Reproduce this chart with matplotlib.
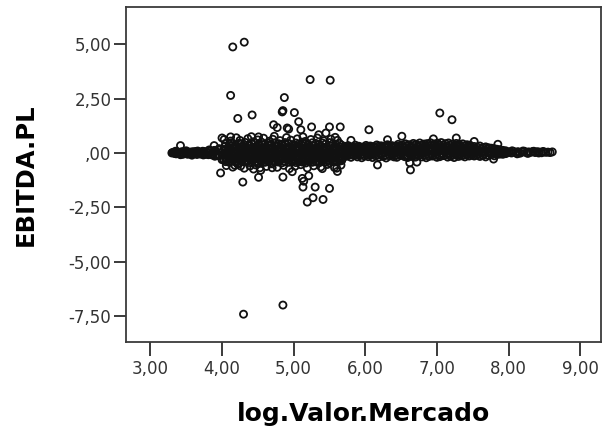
import matplotlib
matplotlib.use("Agg")
import matplotlib.pyplot as plt

# ---- outliers / scattered points ----
out_x = [4.15, 4.31, 4.12, 5.23, 5.51, 4.87, 4.22, 4.42, 4.84, 4.85, 5.01, 5.07, 5.10,
         4.72, 4.77, 4.91, 4.93, 4.73, 5.13, 5.25, 5.50, 5.65, 5.45, 5.35, 6.05, 7.04,
         7.21, 3.42, 3.33, 8.61, 3.98, 4.29, 4.51, 4.85, 4.98, 5.12, 5.14, 5.21, 5.13,
         5.30, 5.50, 5.27, 5.19, 5.41, 5.61, 6.63, 6.17, 7.79, 4.00, 4.18, 4.26, 4.44,
         4.54, 4.30, 4.85, 4.00, 4.12, 4.41, 4.51, 3.89, 5.80, 6.31, 6.51, 6.95, 7.27,
         7.52, 7.85, 8.00, 5.60, 5.40, 4.70, 5.58, 6.62, 6.72]
out_y = [4.88, 5.10, 2.65, 3.38, 3.35, 2.55, 1.59, 1.75, 1.89, 1.95, 1.86, 1.44, 1.07,
         1.30, 1.17, 1.15, 1.10, 0.77, 0.74, 1.20, 1.20, 1.20, 0.92, 0.84, 1.07, 1.84,
         1.53, 0.34, 0.00, 0.05, -0.92, -1.34, -1.12, -1.11, -0.86, -1.17, -1.30, -1.05,
         -1.57, -1.57, -1.63, -2.06, -2.26, -2.14, -0.85, -0.78, -0.55, -0.28, -0.31,
         -0.57, -0.60, -0.74, -0.80, -7.42, -7.00, 0.69, 0.74, 0.75, 0.74, 0.34, 0.58,
         0.61, 0.77, 0.65, 0.69, 0.53, 0.40, 0.03, -0.70, -0.72, -0.68, 0.72, -0.45, -0.42]

# ---- dense band, section 3.3 - 4.0 ----
a_x = [3.30, 3.33, 3.36, 3.38, 3.41, 3.44, 3.46, 3.49, 3.52, 3.55, 3.57, 3.60, 3.63,
       3.65, 3.68, 3.71, 3.73, 3.76, 3.79, 3.81, 3.84, 3.87, 3.89, 3.92, 3.95, 3.97,
       3.35, 3.42, 3.50, 3.58, 3.66, 3.74, 3.82, 3.90, 3.96]
a_y = [0.00, 0.03, -0.04, 0.05, -0.02, 0.06, -0.05, 0.02, -0.06, 0.04, 0.00, -0.03, 0.07,
       -0.07, 0.03, -0.01, 0.08, -0.04, 0.05, -0.08, 0.10, -0.06, 0.12, -0.10, 0.14, -0.12,
       0.08, -0.08, 0.10, -0.10, 0.09, -0.09, 0.14, -0.15, 0.20]
a2_x = [3.31, 3.34, 3.37, 3.40, 3.43, 3.45, 3.48, 3.51, 3.53, 3.56, 3.59, 3.62, 3.64,
        3.67, 3.70, 3.72, 3.75, 3.78, 3.80, 3.83, 3.86, 3.88, 3.91, 3.94, 3.99]
a2_y = [0.02, -0.02, 0.04, -0.03, 0.01, -0.05, 0.05, -0.01, 0.03, -0.04, 0.06, 0.01, -0.02,
        0.05, -0.05, 0.02, 0.07, -0.06, 0.00, 0.09, -0.09, 0.04, 0.11, -0.12, 0.02]

# ---- section 4.0 - 5.7 ----
bx_a = [4.02, 4.07, 4.11, 4.16, 4.21, 4.26, 4.30, 4.35, 4.40, 4.45, 4.49, 4.54, 4.59,
        4.63, 4.68, 4.73, 4.78, 4.82, 4.87, 4.92, 4.97, 5.01, 5.06, 5.11, 5.15, 5.20,
        5.25, 5.30, 5.34, 5.39, 5.44, 5.49, 5.53, 5.58, 5.63, 5.68]
bx_b = [4.04, 4.09, 4.14, 4.18, 4.23, 4.28, 4.33, 4.37, 4.42, 4.47, 4.52, 4.56, 4.61,
        4.66, 4.70, 4.75, 4.80, 4.85, 4.89, 4.94, 4.99, 5.04, 5.08, 5.13, 5.18, 5.22,
        5.27, 5.32, 5.37, 5.41, 5.46, 5.51, 5.56, 5.60, 5.65, 5.70]
bx_c = [4.05, 4.10, 4.13, 4.19, 4.24, 4.27, 4.32, 4.38, 4.41, 4.46, 4.51, 4.55, 4.60,
        4.65, 4.69, 4.74, 4.79, 4.84, 4.88, 4.93, 4.98, 5.03, 5.07, 5.12, 5.17, 5.21,
        5.26, 5.31, 5.36, 5.40, 5.45, 5.50, 5.55, 5.59, 5.64, 5.67]
bx_s1 = [4.03, 4.12, 4.20, 4.25, 4.36, 4.44, 4.50, 4.58, 4.66, 4.71, 4.81, 4.90, 4.96,
         5.05, 5.16, 5.24, 5.33, 5.42, 5.52, 5.61]
bx_s2 = [4.06, 4.15, 4.22, 4.31, 4.39, 4.47, 4.53, 4.62, 4.70, 4.77, 4.86, 4.94, 5.02,
         5.10, 5.19, 5.28, 5.38, 5.47, 5.57, 5.66]
b1_y = [0.62, 0.55, 0.70, 0.58, 0.66, 0.52, 0.60, 0.68, 0.54, 0.63, 0.57, 0.71, 0.59,
        0.65, 0.53, 0.62, 0.69, 0.56, 0.64, 0.58]
b2_y = [0.30, 0.25, 0.33, 0.27, 0.22, 0.31, 0.26, 0.34, 0.24, 0.29, 0.32, 0.23, 0.28,
        0.35, 0.26, 0.30, 0.24, 0.33, 0.27, 0.21, 0.31, 0.28, 0.25, 0.34, 0.29, 0.23,
        0.32, 0.26, 0.30, 0.24, 0.28, 0.33, 0.25, 0.29, 0.27, 0.22]
b3_y = [0.10, 0.05, 0.12, 0.03, 0.08, 0.14, 0.06, 0.11, 0.02, 0.09, 0.13, 0.04, 0.07,
        0.12, 0.01, 0.10, 0.06, 0.13, 0.08, 0.03, 0.11, 0.07, 0.14, 0.05, 0.09, 0.02,
        0.12, 0.06, 0.10, 0.04, 0.08, 0.13, 0.05, 0.11, 0.07, 0.09]
b4_y = [-0.10, -0.15, -0.08, -0.13, -0.18, -0.11, -0.14, -0.07, -0.16, -0.12, -0.09, -0.17,
        -0.13, -0.06, -0.14, -0.10, -0.16, -0.08, -0.12, -0.19, -0.09, -0.13, -0.15, -0.07,
        -0.11, -0.17, -0.10, -0.14, -0.08, -0.16, -0.12, -0.09, -0.15, -0.11, -0.13, -0.10]
b5_y = [-0.30, -0.35, -0.28, -0.33, -0.38, -0.31, -0.27, -0.36, -0.32, -0.29, -0.37, -0.33,
        -0.26, -0.34, -0.30, -0.36, -0.28, -0.32, -0.39, -0.29, -0.33, -0.35, -0.27, -0.31,
        -0.37, -0.30, -0.34, -0.28, -0.36, -0.32, -0.29, -0.35, -0.31, -0.33, -0.30, -0.26]
b6_y = [-0.58, -0.65, -0.52, -0.70, -0.60, -0.55, -0.68, -0.62, -0.50, -0.66, -0.57, -0.72,
        -0.61, -0.54, -0.69, -0.59, -0.64, -0.53, -0.67, -0.56]
b7_y = [0.44, 0.40, 0.47, 0.38, 0.45, 0.41, 0.49, 0.37, 0.43, 0.46, 0.39, 0.50, 0.42,
        0.45, 0.38, 0.47, 0.43, 0.40, 0.48, 0.44, 0.37, 0.46, 0.41, 0.49, 0.43, 0.39,
        0.47, 0.44, 0.40, 0.46, 0.42, 0.48, 0.43, 0.39, 0.44, 0.36]
b8_y = [0.18, 0.20, 0.16, 0.19, 0.21, 0.17, 0.15, 0.20, 0.18, 0.22, 0.16, 0.19, 0.17,
        0.21, 0.18, 0.15, 0.20, 0.17, 0.19, 0.22, 0.16, 0.18, 0.21, 0.17, 0.19, 0.15,
        0.20, 0.18, 0.16, 0.21, 0.19, 0.17, 0.20, 0.18, 0.16, 0.19]
b9_y = [-0.02, 0.00, -0.04, -0.01, -0.03, 0.01, -0.02, -0.05, 0.00, -0.03, -0.01, -0.04,
        0.01, -0.02, -0.03, 0.00, -0.04, -0.01, -0.02, -0.05, 0.01, -0.03, -0.01, -0.02,
        -0.04, 0.00, -0.03, -0.01, -0.02, -0.04, 0.00, -0.02, -0.03, -0.01, -0.02, 0.00]
b10_y = [-0.22, -0.20, -0.24, -0.21, -0.23, -0.19, -0.22, -0.25, -0.20, -0.23, -0.21, -0.24,
         -0.19, -0.22, -0.23, -0.20, -0.24, -0.21, -0.22, -0.25, -0.19, -0.23, -0.21, -0.22,
         -0.24, -0.20, -0.23, -0.21, -0.22, -0.24, -0.20, -0.22, -0.23, -0.21, -0.22, -0.20]
b11_y = [-0.40, -0.43, -0.38, -0.42, -0.45, -0.39, -0.41, -0.44, -0.40, -0.42, -0.46, -0.39,
         -0.43, -0.41, -0.44, -0.40, -0.42, -0.45, -0.39, -0.43, -0.41, -0.44, -0.40, -0.42,
         -0.46, -0.39, -0.43, -0.41, -0.44, -0.40, -0.42, -0.45, -0.39, -0.41, -0.38, -0.35]

# ---- section 5.7 - 7.5 ----
cx_a = [5.72, 5.76, 5.82, 5.86, 5.91, 5.97, 6.01, 6.07, 6.11, 6.16, 6.22, 6.26, 6.31,
        6.37, 6.41, 6.46, 6.52, 6.56, 6.61, 6.67, 6.71, 6.76, 6.82, 6.86, 6.91, 6.97,
        7.01, 7.06, 7.12, 7.16, 7.21, 7.27, 7.31, 7.36, 7.42, 7.46]
cx_b = [5.74, 5.80, 5.84, 5.89, 5.95, 5.99, 6.04, 6.10, 6.14, 6.19, 6.25, 6.29, 6.34,
        6.40, 6.44, 6.49, 6.55, 6.59, 6.64, 6.70, 6.74, 6.79, 6.85, 6.89, 6.94, 7.00,
        7.04, 7.09, 7.15, 7.19, 7.24, 7.30, 7.34, 7.39, 7.45, 7.49]
cx_c = [5.73, 5.78, 5.83, 5.88, 5.93, 5.98, 6.03, 6.08, 6.13, 6.18, 6.23, 6.28, 6.33,
        6.38, 6.43, 6.48, 6.53, 6.58, 6.63, 6.68, 6.73, 6.78, 6.83, 6.88, 6.93, 6.98,
        7.03, 7.08, 7.13, 7.18, 7.23, 7.28, 7.33, 7.38, 7.43, 7.48]
c1_y = [0.30, 0.34, 0.28, 0.36, 0.31, 0.27, 0.35, 0.32, 0.29, 0.37, 0.33, 0.30, 0.38,
        0.34, 0.31, 0.40, 0.36, 0.42, 0.38, 0.44, 0.40, 0.46, 0.41, 0.43, 0.47, 0.42,
        0.45, 0.48, 0.43, 0.46, 0.41, 0.44, 0.40, 0.42, 0.38, 0.36]
c2_y = [0.18, 0.22, 0.15, 0.20, 0.24, 0.17, 0.21, 0.19, 0.23, 0.16, 0.20, 0.25, 0.18,
        0.22, 0.19, 0.24, 0.21, 0.17, 0.23, 0.20, 0.26, 0.19, 0.22, 0.24, 0.18, 0.21,
        0.25, 0.20, 0.23, 0.19, 0.22, 0.26, 0.21, 0.18, 0.23, 0.20]
c3_y = [0.02, -0.03, 0.05, 0.00, -0.02, 0.04, 0.01, -0.04, 0.03, 0.06, -0.01, 0.02, 0.05,
        -0.03, 0.01, 0.04, 0.00, 0.06, 0.02, -0.02, 0.05, 0.03, 0.00, 0.04, 0.07, 0.01,
        0.03, -0.01, 0.05, 0.02, 0.06, 0.00, 0.04, 0.02, 0.03, 0.01]
c4_y = [-0.15, -0.20, -0.12, -0.18, -0.22, -0.14, -0.17, -0.21, -0.13, -0.19, -0.16, -0.23,
        -0.14, -0.18, -0.20, -0.12, -0.17, -0.21, -0.15, -0.19, -0.13, -0.18, -0.22, -0.16,
        -0.14, -0.20, -0.17, -0.12, -0.19, -0.15, -0.21, -0.16, -0.13, -0.18, -0.14, -0.10]
c5_y = [0.26, 0.28, 0.24, 0.29, 0.27, 0.25, 0.30, 0.26, 0.28, 0.31, 0.27, 0.29, 0.32,
        0.28, 0.30, 0.33, 0.29, 0.34, 0.31, 0.35, 0.32, 0.36, 0.33, 0.34, 0.37, 0.32,
        0.35, 0.36, 0.33, 0.35, 0.31, 0.34, 0.30, 0.32, 0.29, 0.27]
c6_y = [0.10, 0.12, 0.08, 0.11, 0.13, 0.09, 0.11, 0.10, 0.12, 0.08, 0.11, 0.13, 0.09,
        0.12, 0.10, 0.13, 0.11, 0.09, 0.12, 0.10, 0.14, 0.11, 0.12, 0.13, 0.10, 0.11,
        0.14, 0.10, 0.12, 0.11, 0.13, 0.12, 0.11, 0.10, 0.12, 0.10]
c7_y = [-0.07, -0.10, -0.05, -0.09, -0.11, -0.06, -0.08, -0.10, -0.06, -0.09, -0.07, -0.11,
        -0.06, -0.09, -0.10, -0.05, -0.08, -0.10, -0.07, -0.09, -0.06, -0.08, -0.11, -0.07,
        -0.06, -0.10, -0.08, -0.05, -0.09, -0.07, -0.10, -0.08, -0.06, -0.09, -0.07, -0.05]

# ---- section 7.5 - 8.0 ----
d_x = [7.52, 7.56, 7.60, 7.64, 7.68, 7.72, 7.76, 7.80, 7.84, 7.88, 7.92, 7.96]
d_x2 = [7.54, 7.58, 7.62, 7.66, 7.70, 7.74, 7.78, 7.82, 7.86, 7.90, 7.94, 7.98]
d1_y = [0.30, 0.27, 0.32, 0.25, 0.28, 0.24, 0.22, 0.20, 0.17, 0.15, 0.12, 0.10]
d2_y = [0.08, 0.05, 0.10, 0.06, 0.03, 0.07, 0.04, 0.06, 0.02, 0.05, 0.03, 0.04]
d3_y = [-0.14, -0.10, -0.16, -0.12, -0.18, -0.11, -0.08, -0.13, -0.07, -0.05, -0.06, -0.03]
d4_y = [0.18, -0.03, 0.20, -0.05, 0.17, -0.02, 0.14, -0.04, 0.11, 0.00, 0.08, 0.01]

# ---- section 8.0 - 8.6 ----
e_x = [8.01, 8.04, 8.07, 8.10, 8.13, 8.16, 8.19, 8.22, 8.25, 8.28, 8.31, 8.34, 8.37,
       8.40, 8.43, 8.46, 8.49, 8.52, 8.55, 8.58, 8.05, 8.12, 8.20, 8.27, 8.35, 8.42, 8.48]
e_y = [0.05, 0.00, 0.07, 0.02, 0.06, -0.01, 0.04, 0.08, 0.01, 0.05, 0.03, 0.07, 0.02,
       0.06, 0.04, 0.01, 0.05, 0.03, 0.04, 0.02, 0.10, -0.04, 0.09, -0.02, 0.08, 0.00, 0.07]

x_ticks = [3, 4, 5, 6, 7, 8, 9]
x_tick_labels = ["3,00", "4,00", "5,00", "6,00", "7,00", "8,00", "9,00"]
y_ticks = [5, 2.5, 0, -2.5, -5, -7.5]
y_tick_labels = ["5,00", "2,50", ",00", "-2,50", "-5,00", "-7,50"]

xs = (out_x + a_x + a2_x
      + bx_s1 + bx_b + bx_a + bx_b + bx_a + bx_s2 + bx_c + bx_c + bx_c + bx_c + bx_c
      + cx_a + cx_b + cx_a + cx_b + cx_c + cx_c + cx_c
      + d_x + d_x + d_x + d_x2 + e_x)
ys = (out_y + a_y + a2_y
      + b1_y + b2_y + b3_y + b4_y + b5_y + b6_y + b7_y + b8_y + b9_y + b10_y + b11_y
      + c1_y + c2_y + c3_y + c4_y + c5_y + c6_y + c7_y
      + d1_y + d2_y + d3_y + d4_y + e_y)

fig = plt.figure(figsize=(6.03, 4.36), dpi=100)
ax = fig.add_axes([0.209, 0.2156, 0.7877, 0.7684])
ax.scatter(xs, ys, s=26, facecolors="none", edgecolors="#111111", linewidths=1.3)

ax.set_xlim(2.66, 9.29)
ax.set_ylim(-8.7, 6.72)
ax.set_xticks(x_ticks)
ax.set_xticklabels(x_tick_labels)
ax.set_yticks(y_ticks)
ax.set_yticklabels(y_tick_labels)

spine_c = "#3a3a3a"
for s in ax.spines.values():
    s.set_color(spine_c)
    s.set_linewidth(1.3)
ax.tick_params(axis="x", length=10, width=1.4, color=spine_c, labelsize=12,
               labelcolor="#333333", pad=3)
ax.tick_params(axis="y", length=8.5, width=1.4, color=spine_c, labelsize=12,
               labelcolor="#333333", pad=2)

ax.set_xlabel("log.Valor.Mercado", fontsize=18, fontweight="bold", labelpad=17)
ax.set_ylabel("EBITDA.PL", fontsize=17.5, fontweight="bold", labelpad=22)

fig.savefig("out.png", dpi=100)
